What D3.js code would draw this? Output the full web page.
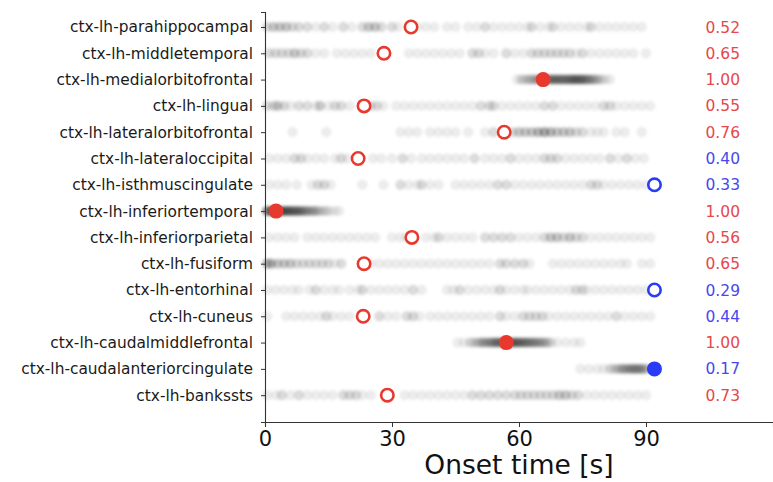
<!DOCTYPE html>
<html>
<head>
<meta charset="utf-8">
<script src="https://cdn.jsdelivr.net/npm/d3@7"></script>
<style>
  html, body { margin: 0; padding: 0; background: #fff; }
  svg { display: block; font-family: "DejaVu Sans", sans-serif; }
</style>
</head>
<body>
<svg id="chart" width="773" height="482"></svg>
<script>
// Cortical regions, top to bottom
const regions = [
  "ctx-lh-parahippocampal", "ctx-lh-middletemporal", "ctx-lh-medialorbitofrontal",
  "ctx-lh-lingual", "ctx-lh-lateralorbitofrontal", "ctx-lh-lateraloccipital",
  "ctx-lh-isthmuscingulate", "ctx-lh-inferiortemporal", "ctx-lh-inferiorparietal",
  "ctx-lh-fusiform", "ctx-lh-entorhinal", "ctx-lh-cuneus",
  "ctx-lh-caudalmiddlefrontal", "ctx-lh-caudalanteriorcingulate", "ctx-lh-bankssts"
];

// Estimated onset time per region (s)
const onsetTimes = [34.5, 28.1, 65.7, 23.4, 56.5, 22.0, 92.0, 2.6, 34.7, 23.4, 92.0, 23.2, 57.0, 92.0, 28.9];

// Score shown at the right of each row
const scores = [0.52, 0.65, 1.00, 0.55, 0.76, 0.40, 0.33, 1.00, 0.56, 0.65, 0.29, 0.44, 1.00, 0.17, 0.73];

// Whether an onset was found inside the scan window (red) or not (blue)
const detected = [true, true, true, true, true, true, false, true, true, true, false, true, true, false, true];

// Whether the onset marker is drawn solid
const solid = [false, false, true, false, false, false, false, true, false, false, false, false, true, true, false];

// Sampled onset times per region: [time (s), number of draws]
const sampleOnsets = [
  [[0.5,2],[2,3],[3.5,3],[5,3],[6.5,2],[8,2],[10,2],[12,1],[14,2],[16,1],[18.5,2],[20.5,1],[23,2],[24.5,3],[26,3],[27.5,2],[30,2],[31.5,1],[36,1],[38,1],[40,1],[43,1],[45,1],[48,1],[50,1],[52,2],[54,1],[56,1],[58,1],[60,1],[62,1],[63,2],[65,1],[67,1],[68,2],[70,1],[72,1],[74,1],[76,1],[77,2],[79,1],[81,1],[83,1],[85,1],[87,1],[89,1]],
  [[1,2],[2.5,2],[4,2],[5.5,2],[7,3],[8.5,2],[10,2],[12,1],[14,1],[17,1],[19,1],[21,1],[23,1],[25,1],[34,1],[36,1],[38,1],[40,1],[42,1],[44,1],[46,1],[49,2],[50.5,2],[52,1],[54,1],[57,2],[59,1],[61,1],[63,2],[64.5,2],[66,2],[67.5,2],[69,2],[70.5,2],[72,2],[73.5,1],[75,2],[77,1],[79,1],[81,1],[83,1],[85,1],[87,1],[90,1]],
  [[59.5,1],[60.5,2],[61.5,2],[62.5,3],[63.5,3],[64.5,4],[65.5,4],[66.5,5],[67.5,6],[68.5,6],[69.5,6],[70.5,6],[71.5,6],[72.5,7],[73.5,7],[74.5,7],[75.5,6],[76.5,5],[77.5,4],[78.5,3],[79.5,2],[80.5,1],[81.5,1]],
  [[0.5,2],[2,2],[3,3],[4.5,2],[6,1],[8,2],[10,2],[12,1],[13,3],[15,1],[16.5,2],[18,2],[20,1],[25,2],[26.5,2],[28,1],[31,1],[33,1],[35,1],[37,1],[39,1],[41,1],[43,1],[45,1],[47,1],[49,1],[51,2],[53,2],[54,2],[56,1],[58,1],[60,1],[62,1],[64,1],[66,2],[68,2],[70,1],[72,1],[74,1],[76,1],[78,1],[80,2],[81.5,2],[83,1],[85,1],[87,1],[89,1],[91,1]],
  [[6.5,1],[14.5,1],[32,1],[34,1],[36,1],[39,1],[41,1],[43,1],[45,1],[48,1],[52,1],[54,2],[57,2],[58.5,2],[60,3],[61.5,3],[63,3],[64.5,4],[66,5],[67.5,4],[69,3],[70.5,3],[72,3],[73.5,2],[75,2],[77,1],[78.5,1],[80,1],[83,1],[85,1],[89,1]],
  [[1,1],[3,1],[5,1],[7,2],[8.5,2],[10,1],[12,1],[14,1],[16.5,1],[18,2],[19.5,1],[25.5,1],[27.5,1],[30,1],[32.5,2],[34.5,1],[37,1],[39,1],[41,1],[43,1],[45,1],[47,1],[49.5,2],[52,1],[54,1],[56,1],[58,2],[60,1],[62,1],[64,1],[66,2],[67.5,2],[69,2],[71,1],[73,1],[75,1],[77,1],[79,1],[81.5,2],[83.5,1],[85.5,2],[87.5,1],[89.5,1]],
  [[1,1],[3,1],[5,1],[7.5,1],[11,1],[12.5,2],[14,2],[15.5,1],[23,1],[28,1],[32,2],[34,1],[36,1],[37,2],[39,1],[41,1],[45,1],[47,1],[49,1],[51,1],[53,1],[55,2],[57,2],[59,1],[61,1],[63,1],[65,1],[67,1],[69,1],[71,1],[73,1],[75,1],[77,2],[78.5,2],[80,1],[82,1],[84,1],[86,1],[88,1],[90,1]],
  [[0.5,7],[1.5,8],[2.5,8],[3.5,8],[4.5,8],[5.5,8],[6.5,7],[7.5,7],[8.5,6],[9.5,5],[10.5,4],[11.5,4],[12.5,3],[13.5,2],[14.5,2],[15.5,1],[16.5,1],[17.5,1]],
  [[1,1],[3,1],[5,1],[7,1],[10,1],[12,1],[14,1],[16,1],[18,1],[20,1],[22,1],[24,1],[26,1],[30,1],[32,1],[33.5,1],[38,1],[40,1],[41,2],[43,1],[45,1],[47,1],[49,1],[52,2],[54,2],[56,2],[58,2],[60,1],[62,1],[64,1],[66,2],[67.5,3],[69,3],[70.5,2],[72,3],[73.5,2],[75,2],[77,1],[79,1],[81,1],[83,1],[85,1],[87,1],[89,1],[91,1]],
  [[0.5,4],[1.5,4],[3,3],[4.5,3],[6,3],[7.5,2],[9,2],[10.5,2],[12,2],[13.5,2],[15,2],[16.5,1],[18,2],[25,1],[27,1],[29,1],[31,1],[33,1],[35,1],[37,1],[39,1],[41,1],[43,1],[45,1],[47,1],[49,1],[51,1],[53,1],[55.5,2],[57,2],[59,2],[61,2],[62.5,1],[68,1],[70,1],[72,1],[74,1],[76,1],[78,1],[80,1],[82,1],[84,1],[85.5,1],[89,1],[91,1]],
  [[0.5,1],[2.5,1],[4.5,1],[6.5,1],[8,1],[10.5,1],[12,2],[14,1],[16,1],[17.5,1],[20,1],[22,1],[23,2],[25,1],[27,1],[29,1],[31,1],[33,1],[35,2],[37,1],[43,1],[44.5,1],[46,2],[48,1],[50,1],[52,1],[54,1],[55.5,2],[57,1],[59,1],[61,1],[62,1],[64,1],[66,1],[68,1],[70,1],[72,1],[73.5,2],[75,2],[76,1],[78,1],[80,1],[82,1],[84,1],[86,1],[88,1],[90,1]],
  [[0.5,1],[5,1],[7,1],[9,1],[11,1],[13,1],[14.5,2],[16,1],[18,1],[20,1],[27,2],[29,1],[31,1],[33.5,2],[35,2],[36.5,1],[39,1],[41,1],[43,1],[45,1],[47,1],[49,1],[51,1],[53,1],[55.5,2],[57,1],[59,1],[61,2],[62.5,2],[64,2],[65.5,2],[67,1],[69,1],[71,1],[73,1],[75,1],[77,1],[79,1],[81,1],[83,2],[85,1],[87,1],[89,1],[91,1]],
  [[45.5,1],[47,1],[48.5,2],[49.5,2],[50.5,3],[51.5,4],[52.5,4],[53.5,5],[54.5,6],[55.5,6],[56.5,7],[57.5,7],[58.5,7],[59.5,7],[60.5,6],[61.5,6],[62.5,5],[63.5,5],[64.5,4],[65.5,4],[66.5,3],[67.5,2],[69,1],[71,1],[73,1],[74.5,1]],
  [[74.5,1],[76.5,1],[78.5,1],[80,1],[81.5,2],[82.5,2],[83.5,3],[84.5,4],[85.5,4],[86.5,5],[87.5,5],[88.5,5],[89.5,4],[90.5,2]],
  [[0.5,1],[2.5,1],[4,2],[6,1],[8,2],[10,1],[12,1],[14,1],[16,1],[18.5,2],[20,2],[21.5,2],[23,1],[25,1],[33,1],[35,1],[37,1],[39,1],[41,1],[43,1],[45,1],[47,1],[49,2],[51,2],[53,2],[55,2],[57,2],[59,2],[60.5,2],[62,2],[63.5,2],[65,2],[66.5,2],[68,2],[69.5,3],[71,3],[72.5,2],[74,2],[76,1],[78,1],[80,1],[82,1],[84,1],[86,1],[88,1],[90,1]]
];

const xTicks = [0, 30, 60, 90];
const xLabel = "Onset time [s]";

const RED = "#e8392e", BLUE = "#2a3cf5";
const RED_TXT = "#e64848", BLUE_TXT = "#4848ee";

const svg = d3.select("#chart");
const x = d3.scaleLinear().domain([0, 120]).range([265, 773]);
const y = d3.scaleLinear().domain([-0.57, 15.02]).range([12, 422]);

const defs = svg.append("defs");
defs.append("filter").attr("id", "soft")
  .attr("x", "-10%").attr("y", "-50%").attr("width", "120%").attr("height", "200%")
  .append("feGaussianBlur").attr("stdDeviation", 1.4);

// Sample draws, stacked translucent dots with a faint outline
const draws = [];
sampleOnsets.forEach((row, i) => row.forEach(([t, n]) => {
  for (let k = 0; k < n; k++) draws.push({ i, t });
}));
svg.append("g").attr("filter", "url(#soft)")
  .selectAll("circle").data(draws).join("circle")
  .attr("cx", d => x(d.t)).attr("cy", d => y(d.i))
  .attr("r", 4.4)
  .attr("fill", "#000").attr("fill-opacity", 0.07)
  .attr("stroke", "#000").attr("stroke-opacity", 0.07).attr("stroke-width", 1.2);

// Axes
const xAxis = svg.append("g").attr("transform", `translate(0,${y.range()[1]})`)
  .call(d3.axisBottom(x).tickValues(xTicks).tickSize(5).tickPadding(4).tickFormat(d3.format("d")));
xAxis.select(".domain").attr("stroke", "#333").attr("stroke-width", 1.1);
xAxis.selectAll(".tick line").attr("stroke", "#333");
xAxis.selectAll(".tick text").attr("font-size", 21).attr("fill", "#111")
  .attr("font-family", "DejaVu Sans, sans-serif");

const yAxis = svg.append("g").attr("transform", `translate(${x.range()[0]},0)`)
  .call(d3.axisLeft(y).tickValues(d3.range(regions.length)).tickSize(4).tickPadding(8)
    .tickFormat(i => regions[i]));
yAxis.select(".domain").attr("stroke", "#333").attr("stroke-width", 1.1);
yAxis.selectAll(".tick line").attr("stroke", "#333");
yAxis.selectAll(".tick text").attr("font-size", 15.4).attr("fill", "#1a1a1a")
  .attr("font-family", "DejaVu Sans, sans-serif");

svg.append("text").attr("x", 519).attr("y", 474).attr("text-anchor", "middle")
  .attr("font-size", 26.5).attr("fill", "#111").text(xLabel);

// Onset markers
const markerColor = i => detected[i] ? RED : BLUE;
svg.append("g").selectAll("circle").data(onsetTimes).join("circle")
  .attr("cx", d => x(d)).attr("cy", (d, i) => y(i))
  .attr("r", 6.2)
  .attr("fill", (d, i) => solid[i] ? markerColor(i) : "#fff")
  .attr("stroke", (d, i) => markerColor(i)).attr("stroke-width", 2.6);

// Scores
svg.append("g").selectAll("text").data(scores).join("text")
  .attr("x", 740).attr("y", (d, i) => y(i)).attr("dy", "0.36em")
  .attr("text-anchor", "end").attr("font-size", 15.5)
  .attr("fill", d => d > 0.5 ? RED_TXT : BLUE_TXT)
  .text(d => d.toFixed(2));
</script>
</body>
</html>
